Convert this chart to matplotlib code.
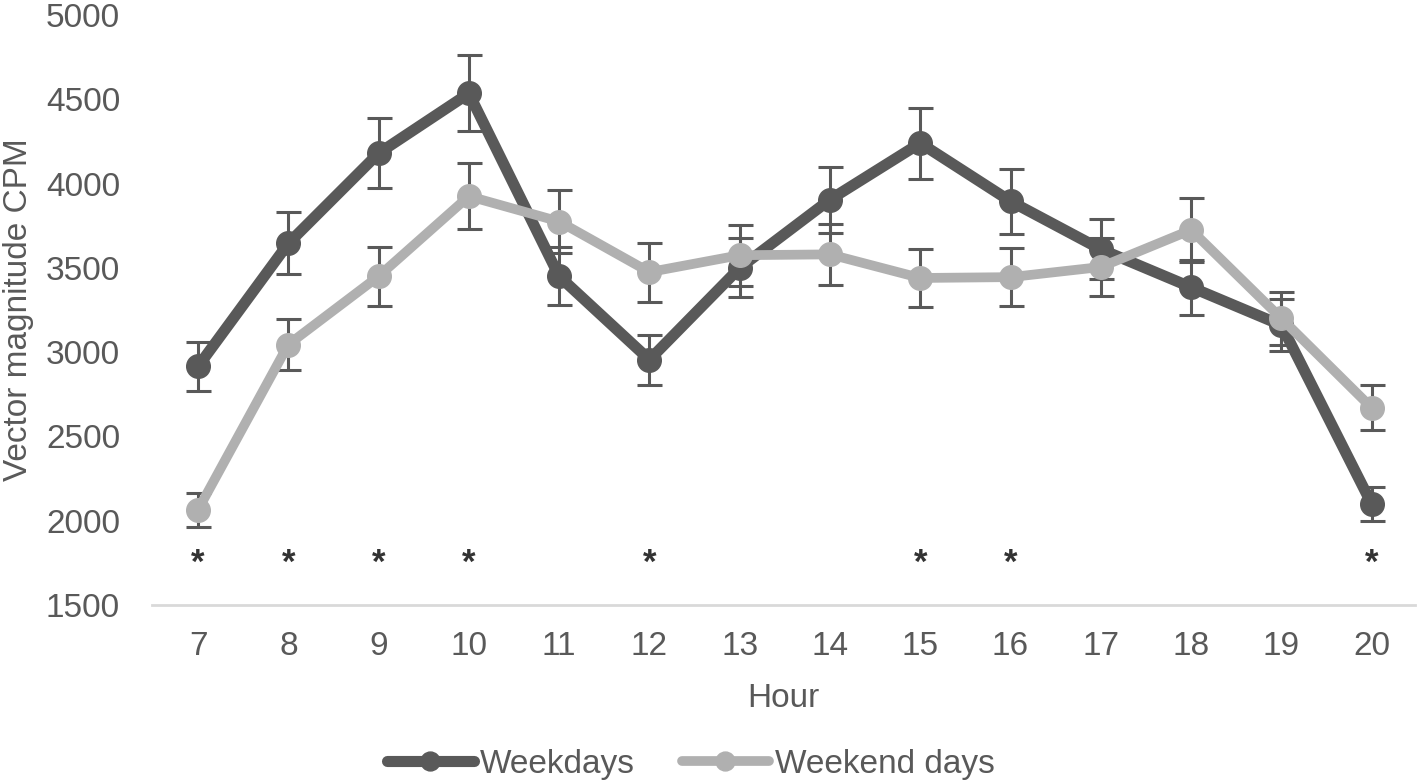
import matplotlib
matplotlib.use("Agg")
import matplotlib.pyplot as plt

plt.rcParams['font.family'] = ['Liberation Sans', 'DejaVu Sans']

hours = [7, 8, 9, 10, 11, 12, 13, 14, 15, 16, 17, 18, 19, 20]
weekdays = [2915, 3645, 4180, 4535, 3450, 2955, 3500, 3905, 4240, 3895, 3610, 3385, 3160, 2100]
weekdays_err = [145, 184, 209, 225, 172, 148, 175, 196, 210, 193, 178, 163, 155, 100]
weekend = [2065, 3045, 3450, 3925, 3775, 3475, 3575, 3580, 3440, 3445, 3505, 3725, 3200, 2670]
weekend_err = [100, 151, 174, 195, 184, 175, 180, 181, 171, 170, 172, 189, 155, 133]
significant_hours = [7, 8, 9, 10, 12, 15, 16, 20]
star_level = 1745
yticks = [1500, 2000, 2500, 3000, 3500, 4000, 4500, 5000]

DARK = '#595959'
LIGHT = '#b0b0b0'
TEXT = '#595959'

fig = plt.figure(figsize=(14.18, 7.84), dpi=100)
ax = fig.add_axes([152/1418, 1 - 605/784, (1415-152)/1418, (605-15)/784])

ax.errorbar(hours, weekdays, yerr=weekdays_err, fmt='none', ecolor=DARK,
            elinewidth=2.2, capsize=9, capthick=2.2, zorder=1)
ax.errorbar(hours, weekend, yerr=weekend_err, fmt='none', ecolor=DARK,
            elinewidth=2.2, capsize=9, capthick=2.2, zorder=1)
ax.plot(hours, weekdays, color=DARK, lw=8, marker='o', ms=17,
        solid_capstyle='round', label='Weekdays', zorder=2)
ax.plot(hours, weekend, color=LIGHT, lw=7, marker='o', ms=17,
        solid_capstyle='round', label='Weekend days', zorder=3)

for h in significant_hours:
    ax.text(h, star_level, '*', ha='center', va='center', fontsize=25,
            fontweight='bold', color='#333333')

ax.set_xlim(6.49, 20.48)
ax.set_ylim(1500, 5000)
ax.set_xticks(hours)
ax.set_xticklabels([str(h) for h in hours])
ax.set_yticks(yticks)
ax.tick_params(axis='both', length=0, labelsize=24, labelcolor=TEXT)
ax.tick_params(axis='y', pad=23)
ax.tick_params(axis='x', pad=19)
for s in ['top', 'right', 'left']:
    ax.spines[s].set_visible(False)
ax.spines['bottom'].set_color('#d9d9d9')
ax.spines['bottom'].set_linewidth(2)

ax.set_xlabel('Hour', fontsize=24, color=TEXT, labelpad=15)
ax.set_ylabel('Vector magnitude CPM', fontsize=24, color=TEXT)
ax.yaxis.set_label_coords((34 - 152) / 1263, 0.5)

leg = fig.legend(loc='center', bbox_to_anchor=(691/1418, 1 - 764/784), ncol=2,
                 frameon=False, fontsize=24, handlelength=2.6, handletextpad=0.2,
                 columnspacing=1.4, markerscale=0.8)
for t in leg.get_texts():
    t.set_color(TEXT)

fig.savefig('out.png', dpi=100)
